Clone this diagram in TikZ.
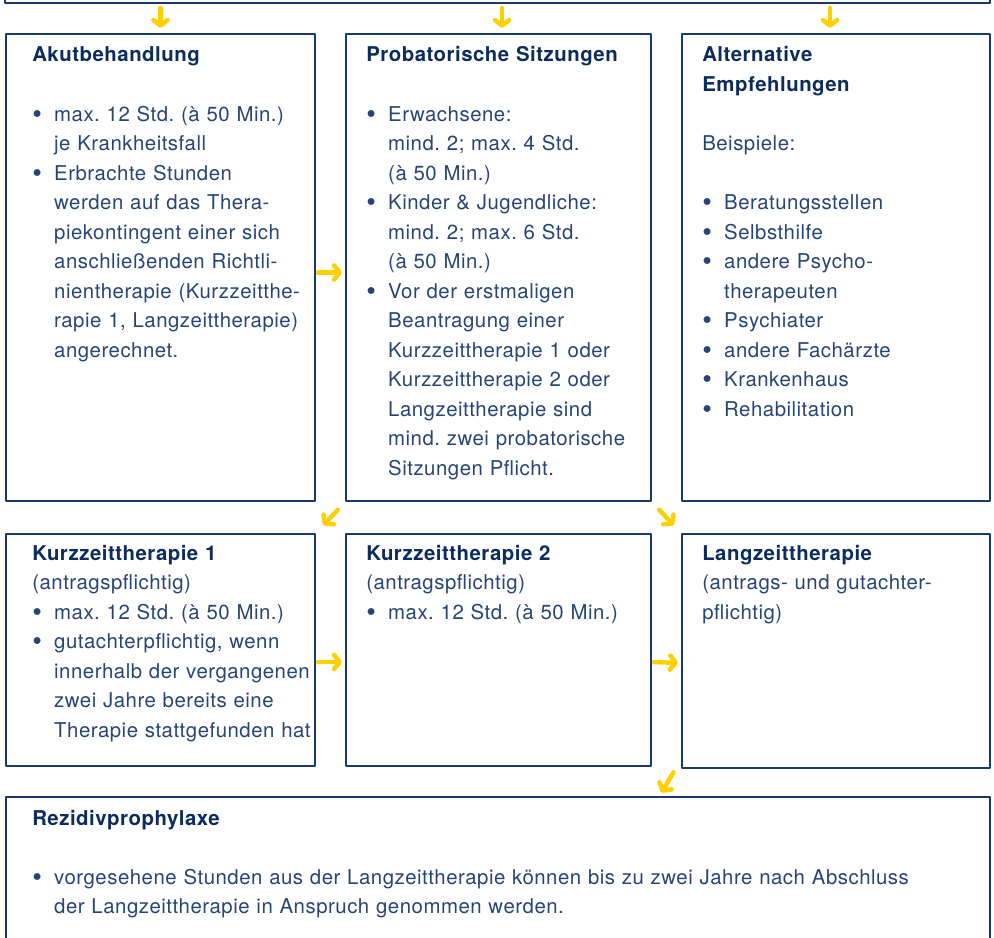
\documentclass[tikz,border=0pt]{standalone}
\usepackage{fontspec}
\usepackage{graphicx}
\setmainfont{TeX Gyre Heros}[LetterSpace=2.5]
\usetikzlibrary{arrows.meta}
\definecolor{rahmenblau}{RGB}{27,58,108}
\definecolor{textblau}{RGB}{38,68,118}
\definecolor{titelblau}{RGB}{12,44,94}
\definecolor{pfeilgelb}{RGB}{255,208,0}
\frenchspacing
% Aufzaehlungspunkt mit haengendem Einzug
\newcommand{\pkt}[1]{\par\hangindent=15.6pt\hangafter=1\noindent
  \makebox[15.6pt][l]{\raisebox{-0.1em}{\scalebox{1.35}{\textbullet}}}#1\par}
\newcommand{\titel}[1]{{\bfseries\color{titelblau}#1}}
\newcommand{\leer}{\par\vspace{21pt}}
\begin{document}
\begin{tikzpicture}[x=0.025cm,y=-0.025cm,line join=round,line cap=round]
\tikzset{
  kasten/.style={draw=rahmenblau,line width=1.1pt,inner sep=0,outer sep=0},
  txt/.style={anchor=base west,inner sep=0,text width=7.4cm,align=left,
    text=textblau,font=\fontsize{14.5}{21}\selectfont},
  pfeil/.style={draw=pfeilgelb,line width=3.2pt,
    -{Straight Barb[length=4pt,width=10pt,round]}}
}
\useasboundingbox (0,0) rectangle (994,938);
% Kaesten
\node[kasten,minimum width=24.625cm,minimum height=1.075cm] (oben) at (497.5,-18.5) {};
\node[kasten,minimum width=7.725cm,minimum height=11.675cm] (akut) at (160.5,267.5) {};
\node[kasten,minimum width=7.625cm,minimum height=11.675cm] (prob) at (498.5,267.5) {};
\node[kasten,minimum width=7.7cm,minimum height=11.675cm] (alt) at (836,267.5) {};
\node[kasten,minimum width=7.725cm,minimum height=5.8cm] (kz1) at (160.5,650) {};
\node[kasten,minimum width=7.625cm,minimum height=5.8cm] (kz2) at (498.5,650) {};
\node[kasten,minimum width=7.7cm,minimum height=5.85cm] (lang) at (836,651) {};
\node[kasten,minimum width=24.6cm,minimum height=4.075cm] (rez) at (498,878.5) {};
% Texte
\node[txt] (akuttxt) at (32,62) {\titel{Akutbehandlung}\leer
  \pkt{max. 12 Std. (à 50 Min.)\newline je Krankheitsfall}
  \pkt{Erbrachte Stunden\newline werden auf das Thera-\newline piekontingent einer sich\newline anschließenden Richtli-\newline nientherapie (Kurzzeitthe-\newline rapie 1, Langzeittherapie)\newline angerechnet.}};
\node[txt] (probtxt) at (366,62) {\titel{Probatorische Sitzungen}\leer
  \pkt{Erwachsene:\newline mind. 2; max. 4 Std.\newline (à 50 Min.)}
  \pkt{Kinder \& Jugendliche:\newline mind. 2; max. 6 Std.\newline (à 50 Min.)}
  \pkt{Vor der erstmaligen\newline Beantragung einer\newline Kurzzeittherapie 1 oder\newline Kurzzeittherapie 2 oder\newline Langzeittherapie sind\newline mind. zwei probatorische\newline Sitzungen Pflicht.}};
\node[txt] (alttxt) at (702,62) {\titel{Alternative\\Empfehlungen}\leer
  Beispiele:\leer
  \pkt{Beratungsstellen}
  \pkt{Selbsthilfe}
  \pkt{andere Psycho-\newline therapeuten}
  \pkt{Psychiater}
  \pkt{andere Fachärzte}
  \pkt{Krankenhaus}
  \pkt{Rehabilitation}};
\node[txt] (kz1txt) at (32,560) {\titel{Kurzzeittherapie 1}\\(antragspflichtig)
  \pkt{max. 12 Std. (à 50 Min.)}
  \pkt{gutachterpflichtig, wenn\newline innerhalb der vergangenen\newline zwei Jahre bereits eine\newline Therapie stattgefunden hat}};
\node[txt] (kz2txt) at (366,560) {\titel{Kurzzeittherapie 2}\\(antragspflichtig)
  \pkt{max. 12 Std. (à 50 Min.)}};
\node[txt] (langtxt) at (702,560) {\titel{Langzeittherapie}\\(antrags- und gutachter-\\pflichtig)};
\node[txt,text width=24cm] (reztxt) at (32,825) {\titel{Rezidivprophylaxe}\leer
  \pkt{vorgesehene Stunden aus der Langzeittherapie können bis zu zwei Jahre nach Abschluss\newline der Langzeittherapie in Anspruch genommen werden.}};
% Pfeile
\draw[pfeil,shorten <=0.125cm,shorten >=0.15cm] (akut.north |- oben.south) -- (akut.north);
\draw[pfeil,shorten <=0.125cm,shorten >=0.15cm] ([xshift=0.09cm]prob.north |- oben.south) -- ([xshift=0.09cm]prob.north);
\draw[pfeil,shorten <=0.125cm,shorten >=0.15cm] ([xshift=-0.15cm]alt.north |- oben.south) -- ([xshift=-0.15cm]alt.north);
\draw[pfeil,shorten <=0.075cm,shorten >=0.1cm] ([yshift=-0.125cm]akut.east) -- ([yshift=-0.125cm]prob.west);
\draw[pfeil,shorten <=0.075cm,shorten >=0.1cm] ([yshift=-0.3cm]kz1.east) -- ([yshift=-0.3cm]kz2.west);
\draw[pfeil,shorten <=0.075cm,shorten >=0.1cm] ([yshift=-0.3cm]kz2.east) -- ([yshift=-0.3cm]lang.west);
\draw[pfeil,shorten <=0.3cm,shorten >=0.3cm] (prob.south west) -- (kz1.north east);
\draw[pfeil,shorten <=0.3cm,shorten >=0.3cm] (prob.south east) -- (lang.north west);
\draw[pfeil,shorten <=0.125cm,shorten >=0.125cm] ([xshift=-0.15cm]lang.south west) -- ([xshift=-0.575cm]lang.south west |- rez.north);
\end{tikzpicture}
\end{document}
